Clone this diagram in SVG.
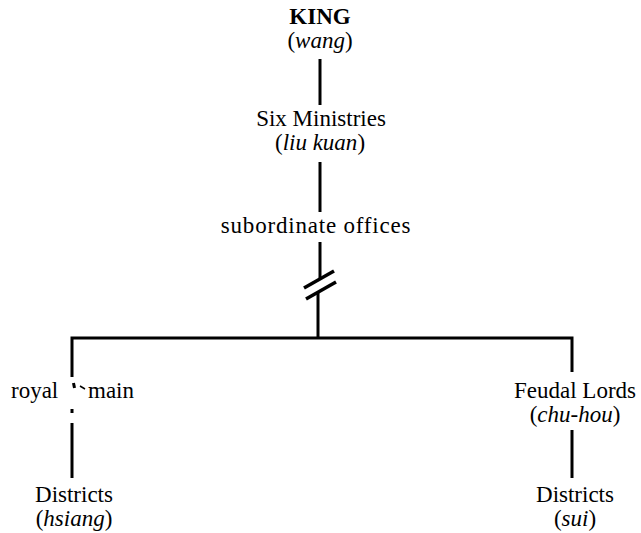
<svg xmlns="http://www.w3.org/2000/svg" width="641" height="533" viewBox="0 0 641 533">
  <style>
    text { font-family: "Liberation Serif", "Times New Roman", serif; font-size: 23px; fill: #000; text-anchor: middle; }
    .bold { font-weight: bold; }
    .it { font-style: italic; }
    .left { text-anchor: start; }
    .wide { letter-spacing: 0.8px; }
    .wire { stroke: #000; stroke-width: 3; fill: none; stroke-linecap: butt; stroke-linejoin: miter; }
    .slash { stroke: #000; stroke-width: 3.5; fill: none; }
  </style>
  <rect width="641" height="533" fill="#fff"/>

  <!-- connectors -->
  <g id="connectors">
    <line class="wire" x1="320" y1="59" x2="320" y2="105"/>
    <line class="wire" x1="320" y1="162" x2="320" y2="212"/>
    <line class="wire" x1="320" y1="242" x2="320" y2="278"/>
    <line class="slash" x1="304" y1="288" x2="334" y2="271"/>
    <line class="slash" x1="306" y1="299" x2="336" y2="282"/>
    <line class="wire" x1="318" y1="292" x2="318" y2="338"/>
    <polyline class="wire" points="72,377 72,338 572,338 572,372"/>
    <!-- broken stroke through the royal domain label -->
    <line class="wire" x1="73.5" y1="383" x2="74.5" y2="388"/>
    <line class="wire" x1="80" y1="386" x2="85" y2="389" style="stroke-width:1.5"/>
    <rect x="70.5" y="409" width="3" height="4" fill="#000"/>
    <line class="wire" x1="72" y1="423" x2="72" y2="478"/>
    <line class="wire" x1="572" y1="430" x2="572" y2="478"/>
  </g>

  <g id="king">
    <text class="bold" x="320" y="24">KING</text>
    <text x="320" y="48">(<tspan class="it">wang</tspan>)</text>
  </g>

  <g id="six-ministries">
    <text x="321" y="126">Six Ministries</text>
    <text x="320" y="150">(<tspan class="it">liu kuan</tspan>)</text>
  </g>

  <g id="subordinate-offices">
    <text class="wide" x="316" y="233">subordinate offices</text>
  </g>

  <g id="royal-domain">
    <text class="left" x="11" y="398">royal</text>
    <text class="left" x="88" y="398">main</text>
  </g>

  <g id="feudal-lords">
    <text x="575" y="398">Feudal Lords</text>
    <text x="575" y="422">(<tspan class="it">chu-hou</tspan>)</text>
  </g>

  <g id="districts-hsiang">
    <text x="74" y="502">Districts</text>
    <text x="74" y="526">(<tspan class="it">hsiang</tspan>)</text>
  </g>

  <g id="districts-sui">
    <text x="575" y="502">Districts</text>
    <text x="575" y="526">(<tspan class="it">sui</tspan>)</text>
  </g>
</svg>
